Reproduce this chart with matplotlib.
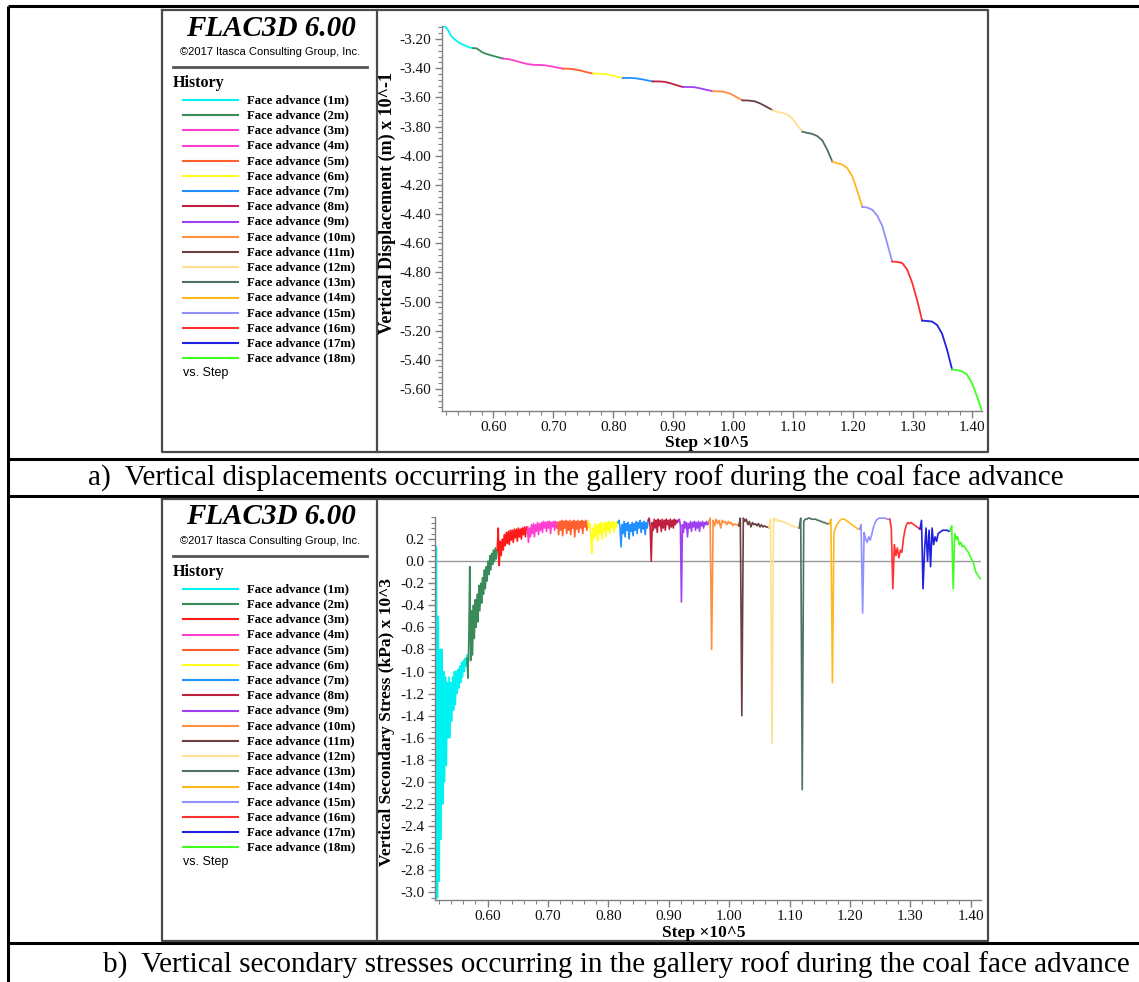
import numpy as np
import matplotlib.pyplot as plt
from matplotlib.ticker import AutoMinorLocator, FormatStrFormatter

plt.rcParams['font.family'] = ['Liberation Serif', 'DejaVu Serif']
plt.rcParams['axes.unicode_minus'] = False

W, H = 1139, 982

labels = ['Face advance (%dm)' % i for i in range(1, 19)]
# step (x10^5) where each face advance starts / ends
edges = [0.514, 0.566, 0.616, 0.666, 0.716, 0.766, 0.816, 0.866, 0.916, 0.966,
         1.016, 1.066, 1.116, 1.166, 1.216, 1.266, 1.316, 1.366, 1.416]

colors_top = ['#00F2F2', '#3A8A5A', '#FF3FD0', '#FF3FD0', '#FF6030', '#FFFF20',
              '#2090FF', '#C02040', '#A040F0', '#FF9040', '#6A4040', '#FFE090',
              '#507060', '#FFB820', '#9090FF', '#FF3030', '#2020E0', '#40FF20']
colors_bot = list(colors_top)
colors_bot[2] = '#FF1A1A'

# a) vertical displacement (m) x 10^-1
disp_1m = [-3.118, -3.112, -3.14, -3.18, -3.20, -3.218, -3.23, -3.24, -3.25, -3.258, -3.262]
disp_2m = [-3.262, -3.262, -3.275, -3.29, -3.298, -3.305, -3.311, -3.317, -3.322, -3.328, -3.333]
disp_3m = [-3.333, -3.338, -3.348, -3.36, -3.37, -3.376]
disp_4m = [-3.376, -3.377, -3.38, -3.386, -3.395, -3.402]
disp_5m = [-3.402, -3.403, -3.408, -3.416, -3.427, -3.436]
disp_6m = [-3.436, -3.437, -3.44, -3.447, -3.457, -3.466]
disp_7m = [-3.466, -3.466, -3.468, -3.474, -3.482, -3.49]
disp_8m = [-3.49, -3.49, -3.493, -3.503, -3.516, -3.528]
disp_9m = [-3.528, -3.528, -3.53, -3.538, -3.548, -3.557]
disp_10m = [-3.557, -3.558, -3.562, -3.575, -3.598, -3.62]
disp_11m = [-3.62, -3.621, -3.626, -3.642, -3.664, -3.686]
disp_12m = [-3.686, -3.70, -3.705, -3.718, -3.745, -3.79, -3.835]
disp_13m = [-3.835, -3.843, -3.85, -3.865, -3.895, -3.96, -4.04]
disp_14m = [-4.04, -4.052, -4.06, -4.085, -4.14, -4.24, -4.35]
disp_15m = [-4.35, -4.355, -4.37, -4.41, -4.48, -4.60, -4.725]
disp_16m = [-4.725, -4.728, -4.735, -4.78, -4.87, -4.99, -5.13]
disp_17m = [-5.13, -5.133, -5.137, -5.16, -5.22, -5.33, -5.465]
disp_18m = [-5.465, -5.47, -5.478, -5.50, -5.56, -5.65, -5.75]

# b) vertical secondary stress (kPa) x 10^3
stress_1m = [-3.07, 0.13, -3.05, -0.5, -2.9, -0.8, -2.52, -0.8, -2.2, -1.0, -2.0, -1.05,
             -1.85, -1.1, -1.6, -1.05, -1.6, -1.1, -1.45, -1.05, -1.35, -1.0, -1.3, -1.0,
             -1.2, -0.98, -1.15, -0.95, -1.1, -0.92, -1.05, -0.9, -1.0, -0.88, -0.95, -0.85]
stress_2m = [-0.88, -1.06, -0.7, -0.05, -0.9, -0.45, -0.85, -0.4, -0.7, -0.35, -0.6, -0.3,
             -0.55, -0.22, -0.45, -0.2, -0.38, -0.15, -0.3, -0.08, -0.25, -0.05, -0.18, 0.0,
             -0.12, 0.05, -0.08, 0.07, -0.03, 0.1, 0.0, 0.12, 0.02, 0.1]
stress_3m = [0.1, 0.3, -0.04, 0.18, 0.05, 0.2, 0.1, 0.24, 0.14, 0.26, 0.16, 0.27, 0.15, 0.28,
             0.19, 0.28, 0.17, 0.29, 0.21, 0.29, 0.18, 0.3, 0.22, 0.29, 0.2, 0.3, 0.24, 0.31,
             0.22, 0.31, 0.31]
stress_4m = [0.31, 0.17, 0.3, 0.22, 0.33, 0.25, 0.34, 0.22, 0.33, 0.27, 0.35, 0.24, 0.34, 0.28,
             0.35, 0.26, 0.36, 0.3, 0.35, 0.27, 0.36, 0.3, 0.36, 0.25, 0.35, 0.31, 0.36, 0.28,
             0.36, 0.3, 0.35]
stress_5m = [0.35, 0.24, 0.36, 0.28, 0.37, 0.23, 0.36, 0.3, 0.37, 0.25, 0.36, 0.28, 0.37, 0.24,
             0.36, 0.3, 0.37, 0.22, 0.36, 0.29, 0.37, 0.26, 0.36, 0.3, 0.37, 0.25, 0.36, 0.31,
             0.37, 0.28, 0.36]
stress_6m = [0.36, 0.3, 0.34, 0.22, 0.07, 0.3, 0.2, 0.34, 0.22, 0.33, 0.18, 0.34, 0.25, 0.35,
             0.2, 0.34, 0.27, 0.35, 0.22, 0.35, 0.28, 0.36, 0.25, 0.35, 0.3, 0.36, 0.26, 0.35,
             0.3, 0.36, 0.35]
stress_7m = [0.35, 0.37, 0.3, 0.13, 0.33, 0.25, 0.36, 0.22, 0.34, 0.28, 0.35, 0.2, 0.33, 0.27,
             0.35, 0.23, 0.34, 0.28, 0.36, 0.25, 0.35, 0.3, 0.37, 0.26, 0.35, 0.29, 0.36, 0.24,
             0.35, 0.3, 0.37]
stress_8m = [0.37, 0.39, 0.3, 0.0, 0.35, 0.28, 0.38, 0.3, 0.37, 0.26, 0.38, 0.32, 0.37, 0.27,
             0.38, 0.3, 0.37, 0.28, 0.38, 0.33, 0.37, 0.29, 0.38, 0.31, 0.37, 0.3, 0.38, 0.33,
             0.37, 0.35, 0.37]
stress_9m = [0.37, 0.38, 0.32, -0.37, 0.33, 0.26, 0.36, 0.3, 0.35, 0.22, 0.34, 0.3, 0.36, 0.27,
             0.35, 0.31, 0.36, 0.28, 0.35, 0.3, 0.36, 0.27, 0.35, 0.32, 0.36, 0.3, 0.35, 0.33,
             0.36, 0.33, 0.35]
stress_10m = [0.35, 0.39, -0.8, 0.37, 0.32, 0.38, 0.34, 0.37, 0.3, 0.37, 0.35, 0.36, 0.33, 0.36,
              0.34, 0.35, 0.32, 0.34, 0.33, 0.33, 0.32]
stress_11m = [0.32, 0.39, -1.4, 0.39, 0.36, 0.38, 0.33, 0.36, 0.31, 0.35, 0.33, 0.34, 0.32, 0.34,
              0.31, 0.33, 0.31, 0.32, 0.31, 0.31, 0.3]
stress_12m = [0.3, 0.38, -1.65, 0.39, 0.37, 0.38, 0.36, 0.37, 0.36, 0.36, 0.35, 0.35, 0.34, 0.34,
              0.33, 0.32, 0.32, 0.31, 0.31, 0.3, 0.3]
stress_13m = [0.3, 0.39, -2.07, 0.36, 0.38, 0.38, 0.39, 0.39, 0.38, 0.38, 0.38, 0.38, 0.37, 0.37,
              0.36, 0.36, 0.35, 0.35, 0.34, 0.34, 0.34]
stress_14m = [0.34, 0.38, -1.1, 0.25, 0.3, 0.33, 0.35, 0.37, 0.38, 0.38, 0.38, 0.37, 0.36, 0.35,
              0.34, 0.33, 0.32, 0.31, 0.3, 0.29, 0.29]
stress_15m = [0.29, 0.33, -0.47, 0.26, 0.2, 0.17, 0.22, 0.19, 0.24, 0.3, 0.34, 0.37, 0.38, 0.39,
              0.39, 0.39, 0.39, 0.39, 0.38, 0.38, 0.38]
stress_16m = [0.38, 0.3, -0.25, 0.15, 0.05, 0.12, 0.03, 0.1, 0.08, 0.2, 0.28, 0.33, 0.35, 0.34,
              0.35, 0.34, 0.33, 0.32, 0.31, 0.3, 0.29]
stress_17m = [0.29, 0.37, -0.25, 0.1, 0.3, 0.0, 0.28, -0.05, 0.3, 0.15, 0.22, 0.18, 0.25, 0.26,
              0.27, 0.28, 0.28, 0.28, 0.28, 0.27, 0.28]
stress_18m = [0.28, 0.32, -0.25, 0.25, 0.2, 0.22, 0.15, 0.17, 0.13, 0.14, 0.12, 0.1, 0.08, 0.05,
              0.02, 0.0, -0.05, -0.1, -0.12, -0.14, -0.16]

disp_series = [disp_1m, disp_2m, disp_3m, disp_4m, disp_5m, disp_6m, disp_7m, disp_8m, disp_9m,
               disp_10m, disp_11m, disp_12m, disp_13m, disp_14m, disp_15m, disp_16m, disp_17m, disp_18m]
stress_series = [stress_1m, stress_2m, stress_3m, stress_4m, stress_5m, stress_6m, stress_7m,
                 stress_8m, stress_9m, stress_10m, stress_11m, stress_12m, stress_13m, stress_14m,
                 stress_15m, stress_16m, stress_17m, stress_18m]

x_ticks = [0.60, 0.70, 0.80, 0.90, 1.00, 1.10, 1.20, 1.30, 1.40]
disp_ticks = [-3.20, -3.40, -3.60, -3.80, -4.00, -4.20, -4.40, -4.60, -4.80, -5.00, -5.20, -5.40, -5.60]
stress_ticks = [0.2, 0.0, -0.2, -0.4, -0.6, -0.8, -1.0, -1.2, -1.4, -1.6, -1.8, -2.0, -2.2,
                -2.4, -2.6, -2.8, -3.0]

fig = plt.figure(figsize=(W / 100, H / 100), dpi=100)

bg = fig.add_axes([0, 0, 1, 1])
bg.set_xlim(0, W)
bg.set_ylim(H, 0)
bg.axis('off')


def px_axes(l, t, r, b):
    return fig.add_axes([l / W, 1 - b / H, (r - l) / W, (b - t) / H])


# table lines
tk = dict(color='black', lw=2.2, solid_capstyle='butt')
bg.plot([8, W], [6, 6], **tk)
bg.plot([8, 8], [6, H], **tk)
bg.plot([8, W], [459, 459], **tk)
bg.plot([8, W], [496, 496], **tk)
bg.plot([8, W], [943, 943], **tk)


def legend_panel(y0, colors):
    box = dict(color='#4a4a4a', lw=1.6)
    top, bot = y0 + 10, y0 + 452
    bg.plot([162, 988, 988, 162, 162], [top, top, bot, bot, top], **box)
    bg.plot([377, 377], [top, bot], **box)
    bg.text(271, y0 + 28, 'FLAC3D 6.00', ha='center', va='center', fontsize=21,
            fontweight='bold', fontstyle='italic')
    bg.text(270, y0 + 52, '\u00a92017 Itasca Consulting Group, Inc.', ha='center', va='center',
            fontsize=8, family='Liberation Sans')
    bg.plot([173, 367], [y0 + 67, y0 + 67], color='#555555', lw=2)
    bg.text(173, y0 + 83, 'History', ha='left', va='center', fontsize=11.5, fontweight='bold')
    for i, (lab, c) in enumerate(zip(labels, colors)):
        yy = y0 + 100 + i * 15.2
        bg.plot([183, 238], [yy, yy], color=c, lw=1.5)
        bg.text(247, yy, lab, ha='left', va='center', fontsize=9.2, fontweight='bold')
    bg.text(183, y0 + 373, 'vs. Step', ha='left', va='center', fontsize=9,
            family='Liberation Sans')


def style_axes(ax, yfmt, yminor):
    for s in ['top', 'right']:
        ax.spines[s].set_visible(False)
    for s in ['left', 'bottom']:
        ax.spines[s].set_color('#808080')
        ax.spines[s].set_linewidth(1)
    ax.set_facecolor('none')
    ax.set_xticks(x_ticks)
    ax.xaxis.set_major_formatter(FormatStrFormatter('%.2f'))
    ax.yaxis.set_major_formatter(FormatStrFormatter(yfmt))
    ax.xaxis.set_minor_locator(AutoMinorLocator(5))
    ax.yaxis.set_minor_locator(AutoMinorLocator(yminor))
    ax.tick_params(which='both', direction='out', color='#808080', labelsize=11,
                   labelcolor='#111111', pad=2.5)
    ax.tick_params(which='major', length=5, width=1)
    ax.tick_params(which='minor', length=3, width=0.8)


legend_panel(0, colors_top)
legend_panel(489, colors_bot)

# a) displacement plot
ax1 = px_axes(442, 26, 982, 411)
for i, vals in enumerate(disp_series):
    xs = np.linspace(edges[i], edges[i + 1], len(vals))
    ax1.plot(xs, vals, color=colors_top[i], lw=1.3)
ax1.set_xlim(0.514, 1.416)
ax1.set_ylim(-5.75, -3.11)
ax1.set_yticks(disp_ticks)
style_axes(ax1, '%.2f', 5)

# b) stress plot
ax2 = px_axes(435, 517, 981, 900)
ax2.axhline(0, color='#999999', lw=1, zorder=1)
for i, vals in enumerate(stress_series):
    xs = np.linspace(edges[i], edges[i + 1], len(vals))
    ax2.plot(xs, vals, color=colors_bot[i], lw=1.2, zorder=2)
ax2.set_xlim(0.513, 1.417)
ax2.set_ylim(-3.07, 0.40)
ax2.set_yticks(stress_ticks)
style_axes(ax2, '%.1f', 4)

# axis titles
bg.text(387, 203, 'Vertical Displacement (m) x 10^-1', rotation=90, ha='center', va='center',
        fontsize=13, fontweight='bold')
bg.text(707, 443, 'Step \u00d710^5', ha='center', va='center', fontsize=12.5, fontweight='bold')
bg.text(387, 722, 'Vertical Secondary Stress (kPa) x 10^3', rotation=90, ha='center',
        va='center', fontsize=12.5, fontweight='bold')
bg.text(704, 933, 'Step \u00d710^5', ha='center', va='center', fontsize=12.5, fontweight='bold')

# captions
bg.text(88, 478, 'a)  Vertical displacements occurring in the gallery roof during the coal face advance',
        ha='left', va='center', fontsize=21)
bg.text(103, 965, 'b)  Vertical secondary stresses occurring in the gallery roof during the coal face advance',
        ha='left', va='center', fontsize=21)

fig.savefig('out.png', dpi=100)
